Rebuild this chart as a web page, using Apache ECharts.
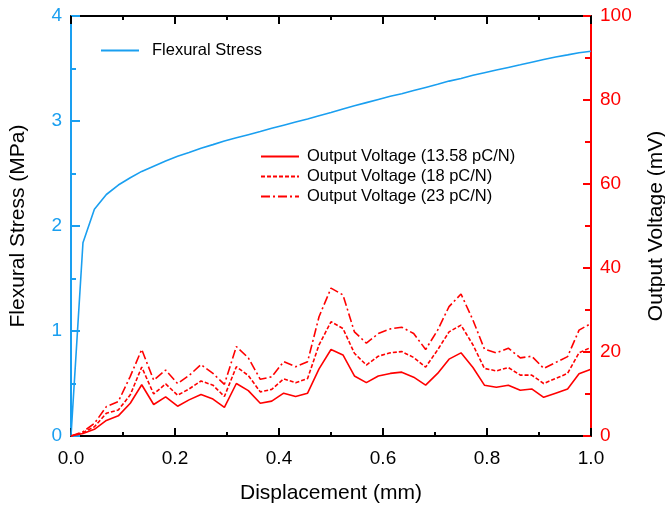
<!DOCTYPE html>
<html>
<head>
<meta charset="utf-8">
<script src="https://cdn.jsdelivr.net/npm/echarts@6/dist/echarts.min.js"></script>
<style>
html,body{margin:0;padding:0;background:#fff;}
#chart{width:665px;height:506px;}
</style>
</head>
<body>
<div id="chart"></div>
<script>
// Displacement (mm)
var displacement = [0, 0.023, 0.045, 0.068, 0.091, 0.114, 0.136, 0.159, 0.182, 0.205, 0.227, 0.25, 0.273, 0.295, 0.318, 0.341, 0.364, 0.386, 0.409, 0.432, 0.455, 0.477, 0.5, 0.523, 0.545, 0.568, 0.591, 0.614, 0.636, 0.659, 0.682, 0.705, 0.727, 0.75, 0.773, 0.795, 0.818, 0.841, 0.864, 0.886, 0.909, 0.932, 0.955, 0.977, 1.0];
// Flexural Stress (MPa)
var flexuralStress = [0, 1.84, 2.16, 2.30, 2.39, 2.46, 2.52, 2.57, 2.62, 2.665, 2.70, 2.74, 2.775, 2.81, 2.84, 2.87, 2.90, 2.93, 2.96, 2.99, 3.02, 3.05, 3.08, 3.115, 3.145, 3.175, 3.205, 3.235, 3.26, 3.29, 3.32, 3.35, 3.38, 3.405, 3.435, 3.46, 3.485, 3.51, 3.535, 3.56, 3.585, 3.61, 3.63, 3.65, 3.665];
// Output Voltage (mV)
var voltage1358 = [0, 0.6, 1.6, 3.7, 4.8, 7.8, 12.2, 7.5, 9.3, 7.1, 8.6, 9.9, 8.8, 6.8, 12.5, 10.8, 7.8, 8.3, 10.2, 9.4, 10.2, 16.0, 20.6, 19.3, 14.3, 12.7, 14.3, 14.9, 15.2, 14.0, 12.1, 14.9, 18.3, 19.8, 16.3, 12.1, 11.6, 12.1, 10.9, 11.2, 9.2, 10.2, 11.2, 14.8, 15.9];
var voltage18 = [0, 0.8, 2.2, 5.4, 6.2, 9.8, 16.4, 10.0, 12.4, 9.7, 11.2, 13.1, 12.1, 9.4, 16.5, 14.4, 10.5, 11.1, 13.6, 12.7, 13.7, 21.7, 27.2, 25.6, 19.7, 16.9, 19.0, 19.8, 20.1, 18.7, 16.4, 20.5, 24.8, 26.4, 21.7, 16.1, 15.5, 16.3, 14.5, 14.5, 12.5, 13.7, 14.9, 19.8, 21.1];
var voltage23 = [0, 1.0, 3.0, 7.0, 8.2, 14.2, 20.6, 13.3, 15.7, 12.5, 14.4, 17.0, 14.9, 12.3, 21.3, 18.6, 13.5, 14.1, 17.7, 16.5, 17.7, 28.4, 35.2, 33.6, 24.8, 22.1, 24.4, 25.5, 25.9, 24.4, 20.6, 25.2, 30.8, 33.8, 27.6, 20.7, 19.8, 20.9, 18.6, 19.0, 16.1, 17.5, 18.9, 25.2, 26.8];

var seriesNames = ['Flexural Stress', 'Output Voltage (13.58 pC/N)', 'Output Voltage (18 pC/N)', 'Output Voltage (23 pC/N)'];

function pairs(ys) { return displacement.map(function (x, i) { return [x, ys[i]]; }); }

var BLUE = '#1a9ff0';
var RED = '#ff0000';
var FONT = 'Liberation Sans, Arial, sans-serif';

var chart = echarts.init(document.getElementById('chart'), null, {renderer: 'canvas'});
chart.setOption({
  animation: false,
  backgroundColor: '#fff',
  textStyle: {fontFamily: FONT},
  grid: {left: 71, right: 74, top: 16, bottom: 70, containLabel: false, outerBoundsMode: 'none'},
  legend: [
    {
      data: [seriesNames[0]],
      left: 100, top: 42, padding: 0, orient: 'vertical',
      itemWidth: 38, itemHeight: 14,
      itemStyle: {opacity: 0},
      textStyle: {fontFamily: FONT, fontSize: 16.5, color: '#000', padding: [0, 0, 0, 8]}
    },
    {
      data: [seriesNames[1], seriesNames[2], seriesNames[3]],
      left: 260, top: 148, padding: 0, orient: 'vertical', itemGap: 3,
      itemWidth: 38, itemHeight: 14,
      itemStyle: {opacity: 0},
      textStyle: {fontFamily: FONT, fontSize: 16.5, color: '#000', padding: [0, 0, 0, 3]}
    }
  ],
  xAxis: [
    {
      type: 'value', min: 0, max: 1, interval: 0.2, position: 'bottom',
      name: 'Displacement (mm)', nameLocation: 'middle', nameGap: 47,
      nameTextStyle: {fontFamily: FONT, fontSize: 21, color: '#000'},
      axisLine: {show: true, onZero: false, lineStyle: {color: '#000', width: 2}},
      axisTick: {show: true, inside: true, length: 8, lineStyle: {color: '#000', width: 2}},
      minorTick: {show: true, splitNumber: 2, length: 4, lineStyle: {color: '#000', width: 2}},
      axisLabel: {fontFamily: FONT, fontSize: 19, color: '#000', margin: 13, formatter: function (v) { return v.toFixed(1); }},
      splitLine: {show: false}
    },
    {
      type: 'value', min: 0, max: 1, interval: 0.2, position: 'top',
      axisLine: {show: true, onZero: false, lineStyle: {color: '#000', width: 2}},
      axisTick: {show: true, inside: true, length: 8, lineStyle: {color: '#000', width: 2}},
      minorTick: {show: true, splitNumber: 2, length: 4, lineStyle: {color: '#000', width: 2}},
      axisLabel: {show: false},
      splitLine: {show: false}
    }
  ],
  yAxis: [
    {
      type: 'value', min: 0, max: 4, interval: 1, position: 'left',
      name: 'Flexural Stress (MPa)', nameLocation: 'middle', nameGap: 42,
      nameTextStyle: {fontFamily: FONT, fontSize: 21, color: '#000'},
      axisLine: {show: true, onZero: false, lineStyle: {color: BLUE, width: 2}},
      axisTick: {show: true, inside: true, length: 9, lineStyle: {color: BLUE, width: 2}},
      minorTick: {show: true, splitNumber: 2, length: 5, lineStyle: {color: BLUE, width: 2}},
      axisLabel: {fontFamily: FONT, fontSize: 19, color: BLUE, margin: 9},
      splitLine: {show: false}
    },
    {
      type: 'value', min: 0, max: 100, interval: 20, position: 'right',
      name: 'Output Voltage (mV)', nameLocation: 'middle', nameGap: 55,
      nameTextStyle: {fontFamily: FONT, fontSize: 21, color: '#000'},
      axisLine: {show: true, onZero: false, lineStyle: {color: RED, width: 2}},
      axisTick: {show: true, inside: true, length: 8, lineStyle: {color: RED, width: 2}},
      minorTick: {show: true, splitNumber: 2, length: 6, lineStyle: {color: RED, width: 2}},
      axisLabel: {fontFamily: FONT, fontSize: 19, color: RED, margin: 9},
      splitLine: {show: false}
    }
  ],
  series: [
    {
      name: seriesNames[0], type: 'line', xAxisIndex: 0, yAxisIndex: 0,
      data: pairs(flexuralStress), symbol: 'none',
      lineStyle: {color: BLUE, width: 1.6}, itemStyle: {color: BLUE}, z: 3
    },
    {
      name: seriesNames[1], type: 'line', xAxisIndex: 0, yAxisIndex: 1,
      data: pairs(voltage1358), symbol: 'none',
      lineStyle: {color: RED, width: 1.6, type: 'solid'}, itemStyle: {color: RED}
    },
    {
      name: seriesNames[2], type: 'line', xAxisIndex: 0, yAxisIndex: 1,
      data: pairs(voltage18), symbol: 'none',
      lineStyle: {color: RED, width: 1.6, type: [4, 2]}, itemStyle: {color: RED}
    },
    {
      name: seriesNames[3], type: 'line', xAxisIndex: 0, yAxisIndex: 1,
      data: pairs(voltage23), symbol: 'none',
      lineStyle: {color: RED, width: 1.6, type: [9, 3, 2, 3]}, itemStyle: {color: RED}
    }
  ]
});
</script>
</body>
</html>
